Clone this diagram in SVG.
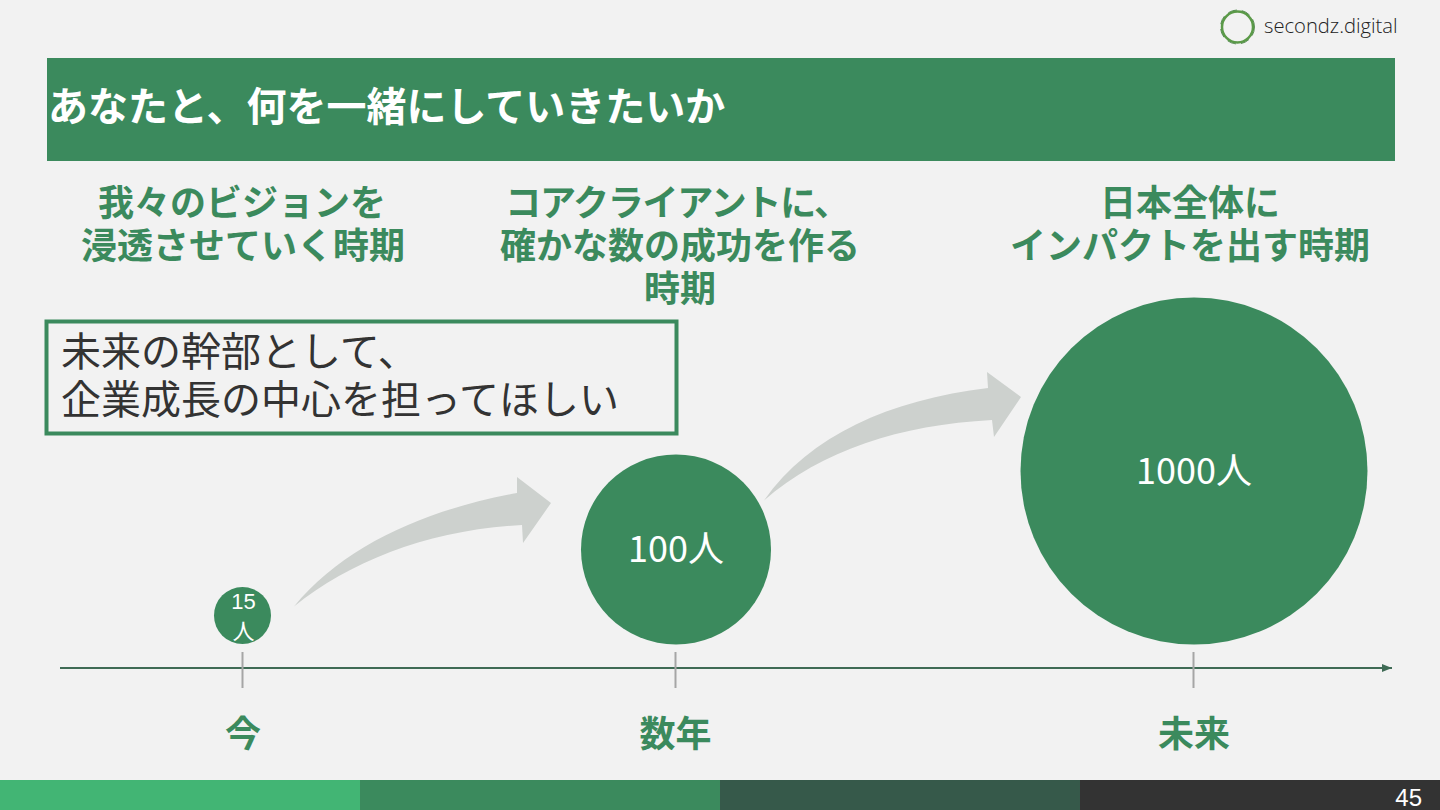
<svg xmlns="http://www.w3.org/2000/svg" width="1440" height="810" viewBox="0 0 1440 810">
<defs>
<marker id="ah" markerUnits="userSpaceOnUse" markerWidth="11" markerHeight="8" refX="10" refY="4" orient="auto"><path d="M0,0L10,4L0,8Z" fill="#3f6b55"/></marker>
</defs>
<style>
text{font-family:"Noto Sans CJK JP","Liberation Sans",sans-serif}
.h{font-size:36px;font-weight:700;fill:#3b8a5d;text-anchor:middle}
.c{fill:#3b8a5d}
.w{fill:#fff;text-anchor:middle;font-size:36px}
.t{stroke:#a6a6a6;stroke-width:2;fill:none}
.a{fill:#cdd1ce}
.l{font-size:36px;font-weight:700;fill:#3b8a5d;text-anchor:middle}
</style>
<rect width="1440" height="810" fill="#f2f2f2"/>
<g id="logo">
<circle cx="1237.500" cy="27" r="15.500" fill="none" stroke="#5b9a48" stroke-width="2.500"/>
<circle cx="1237.500" cy="27" r="17" fill="none" stroke="#3f7d3a" stroke-width="0.800" stroke-dasharray="9 5"/>
<text x="1264" y="33" font-size="20.200" font-weight="300" fill="#222" style="font-family:'Open Sans','Noto Sans',sans-serif">secondz.digital</text>
</g>
<g id="title">
<rect x="47" y="58" width="1348" height="103" fill="#3b8a5d"/>
<text x="48" y="121" font-size="40" font-weight="700" fill="#fff">あなたと、何を一緒にしていきたいか</text>
</g>
<g id="heading-1"><text class="h" x="242" y="216">我々のビジョンを</text><text class="h" x="243" y="259">浸透させていく時期</text></g>
<g id="heading-2"><text class="h" x="677" y="216" letter-spacing="-1.200">コアクライアントに、</text><text class="h" x="680" y="259">確かな数の成功を作る</text><text class="h" x="680" y="302">時期</text></g>
<g id="heading-3"><text class="h" x="1190" y="216">日本全体に</text><text class="h" x="1190" y="259">インパクトを出す時期</text></g>
<g id="callout">
<rect x="46.500" y="321.500" width="630" height="112" fill="none" stroke="#3b8a5d" stroke-width="4"/>
<text x="61" y="366" font-size="40" fill="#333">未来の幹部として、</text>
<text x="61" y="414" font-size="40" fill="#333">企業成長の中心を担ってほしい</text>
</g>
<g id="connectors">
<path class="a" d="M294,606.500C345,545 425,510 517,493L517,477L551,503L523,543L522,525C430,530 352,560 294,606.500Z"/>
<path class="a" d="M764,500.500C810,435 890,400 988,388L987,372L1021,397L994,437L992,420C900,425 822,450 764,500.500Z"/>
<path d="M60,668H1392" stroke="#3f6b55" stroke-width="2" fill="none" marker-end="url(#ah)"/>
<path class="t" d="M242.500,652V688M675.500,652V688M1193.500,652V688"/>
</g>
<g id="node-15">
<circle class="c" cx="242.500" cy="615.500" r="28.500"/>
<text x="243.500" y="609" font-size="22" fill="#fff" text-anchor="middle" style="font-family:'Liberation Sans',sans-serif">15</text>
<text x="243.500" y="639" font-size="22" fill="#fff" text-anchor="middle">人</text>
</g>
<g id="node-100"><circle class="c" cx="676" cy="549.500" r="95"/><text class="w" x="676" y="562">100人</text></g>
<g id="node-1000"><circle class="c" cx="1194" cy="471" r="173.500"/><text class="w" x="1194" y="484">1000人</text></g>
<g id="label-now"><text class="l" x="243" y="747">今</text></g>
<g id="label-years"><text class="l" x="675.500" y="747">数年</text></g>
<g id="label-future"><text class="l" x="1194" y="747">未来</text></g>
<g id="footer">
<rect x="0" y="780" width="360" height="30" fill="#42b574"/>
<rect x="360" y="780" width="360" height="30" fill="#3b8a5d"/>
<rect x="720" y="780" width="360" height="30" fill="#36594a"/>
<rect x="1080" y="780" width="360" height="30" fill="#333333"/>
<text x="1422" y="806" font-size="24" fill="#fff" text-anchor="end" style="font-family:'Liberation Sans',sans-serif">45</text>
</g>
</svg>
